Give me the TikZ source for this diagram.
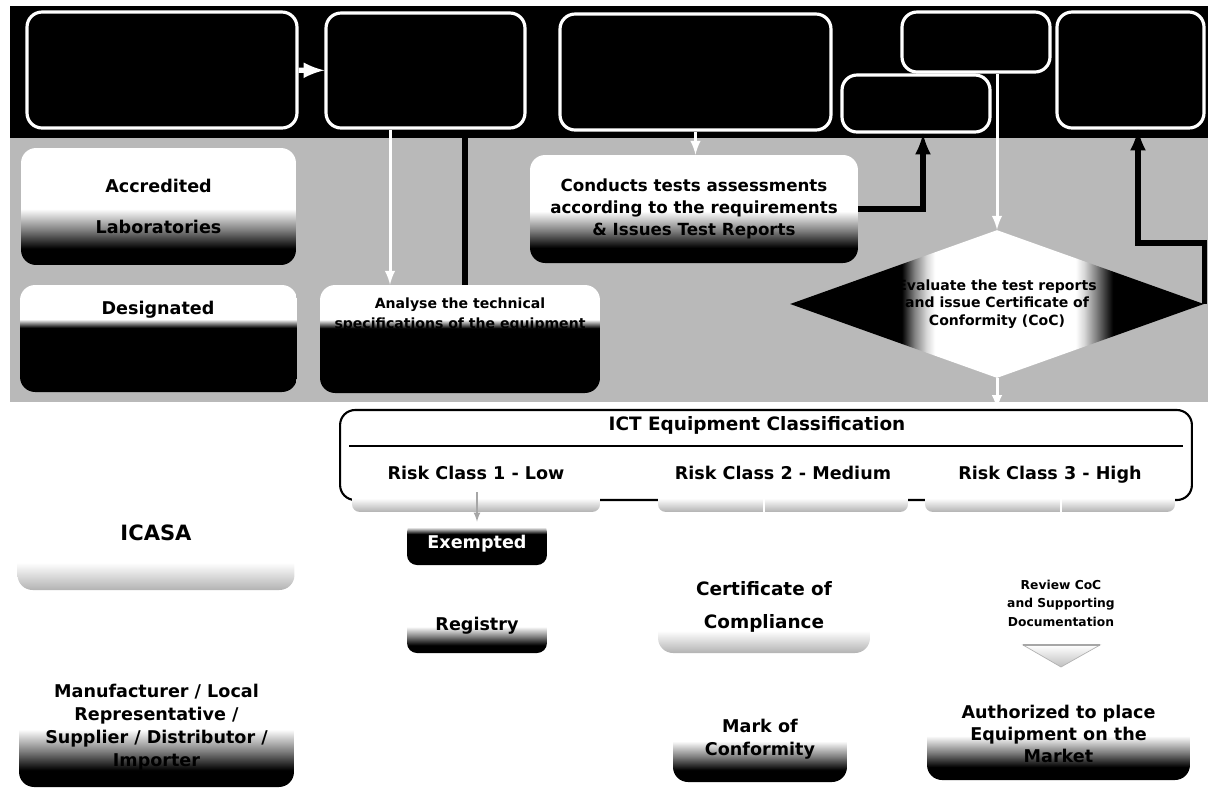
\documentclass[tikz,border=0pt]{standalone}
\usepackage{fontspec}
\setmainfont{DejaVu Sans}
\usetikzlibrary{shapes.geometric,positioning}
\tikzset{>=latex}
% shadings run over the middle 25bp--75bp of the path
\pgfdeclareverticalshading{fadelow}{100bp}{color(0bp)=(black); color(32bp)=(black); color(40bp)=(gray); color(49bp)=(white); color(100bp)=(white)}
\pgfdeclareverticalshading{fadehigh}{100bp}{color(0bp)=(black); color(55bp)=(black); color(57bp)=(gray); color(59bp)=(white); color(100bp)=(white)}
\pgfdeclareverticalshading{fadedark}{100bp}{color(0bp)=(black); color(61bp)=(black); color(65bp)=(gray); color(69bp)=(white); color(100bp)=(white)}
\pgfdeclareverticalshading{fadefaint}{100bp}{color(0bp)=(gray!60); color(25bp)=(gray!60); color(37bp)=(white); color(100bp)=(white)}
\pgfdeclarehorizontalshading{evalfade}{100bp}{color(0bp)=(black); color(38.5bp)=(black); color(40bp)=(gray); color(41.5bp)=(gray!30); color(42.5bp)=(white); color(59.5bp)=(white); color(60.5bp)=(gray!30); color(62bp)=(gray); color(64bp)=(black); color(100bp)=(black)}

\begin{document}
\begin{tikzpicture}[x=0.02cm,y=-0.02cm,
  every node/.style={font=\bfseries\fontsize{10}{13}\selectfont,align=center},
  topbox/.style={draw=white,line width=1.8pt,fill=black,rounded corners=0.3cm},
  fadebox/.style={rounded corners=0.3cm,inner sep=2pt},
  riskbox/.style={rounded corners=0.15cm,shading=fadefaint,minimum width=5cm,inner ysep=2pt,text height=11.6pt,text depth=16.7pt},
  wline/.style={white,line width=1.7pt,->},
  bline/.style={black,line width=3pt,->}]
\useasboundingbox (0,0) rectangle (1208,796);
% band behind the upper part
\fill[black] (10,6) rectangle (1208,138);
\fill[gray!55] (10,138) rectangle (1208,402);

% upper row
\node[topbox,minimum width=5.4cm,minimum height=2.32cm] (in1) at (162,70) {};
\node[topbox,minimum width=3.98cm,minimum height=2.3cm] (in2) at (425.5,70.5) {};
\node[topbox,minimum width=5.42cm,minimum height=2.32cm] (in3) at (695.5,72) {};
\node[topbox,minimum width=2.96cm,minimum height=1.2cm] (in4) at (976,42) {};
\node[topbox,minimum width=2.96cm,minimum height=1.14cm] (in5) at (916,103.5) {};
\node[topbox,minimum width=2.94cm,minimum height=2.32cm] (in6) at (1130.5,70) {};

\node[fadebox,shading=fadelow,minimum width=5.5cm,minimum height=2.34cm] (acc) at (158.5,206.5) {Accredited\\[10pt]Laboratories};
\node[fadebox,shading=fadehigh,minimum width=5.54cm,minimum height=2.14cm] (des) at (158.5,338.5) {};
\node (destxt) at (158,310) {Designated};
\node[fadebox,shading=fadehigh,minimum width=5.6cm,minimum height=2.16cm] (ana) at (460,339) {};
\node[font=\bfseries\fontsize{8}{11.3}\selectfont] (anatxt) at (460,315) {Analyse the technical\\specifications of the equipment};
\node[fadebox,shading=fadelow,minimum width=6.56cm,minimum height=2.16cm,font=\bfseries\fontsize{9.5}{12.5}\selectfont] (cond) at (694,209) {Conducts tests assessments\\according to the requirements\\\& Issues Test Reports};
\node[diamond,shading=evalfade,shape aspect=2.8,minimum width=8.28cm,minimum height=2.96cm,inner sep=0pt,font=\bfseries\fontsize{8}{10}\selectfont] (eval) at (997,304) {Evaluate the test reports\\and issue Certificate of\\Conformity (CoC)};

\draw[wline,line width=3pt] (in1) -- (in2);
\draw[wline] ([xshift=-0.71cm]in2.south) -- ([xshift=-0.71cm]in2.south |- ana.north);
\draw[bline,-] ([xshift=0.1cm]ana.north) -- ([xshift=0.1cm]ana.north |- in2.south);
\draw[wline] (in3.south) -- (in3.south |- cond.north);
\draw[bline] (cond.east) -| ([xshift=0.14cm]in5.south);
\draw[wline] (eval.north |- in4.south) -- (eval.north);
\draw[bline] (eval.east) -- ++(0,-61) -| ([xshift=0.15cm]in6.south);

% classification
\node[draw,line width=1.2pt,fill=white,rounded corners=0.3cm,minimum width=17.04cm,minimum height=1.8cm] (ict) at (766,455) {};
\node[font=\bfseries\fontsize{10.5}{13}\selectfont] (icttitle) at (757,425) {ICT Equipment Classification};
\draw[line width=1.2pt] ([xshift=0.2cm,yshift=-0.74cm]ict.north west) -- ([xshift=-0.2cm,yshift=-0.74cm]ict.north east);
\draw[wline] (eval.south) -- (eval.south |- ict.north);
\node[riskbox,minimum width=4.96cm] (r1) at (476,483.5) {Risk Class 1 - Low};
\node[riskbox] (r2) at (783,483.5) {Risk Class 2 - Medium};
\node[riskbox] (r3) at (1050,483.5) {Risk Class 3 - High};

% lower part
\node[fadebox,shading=fadefaint,minimum width=5.54cm,minimum height=2.28cm,font=\bfseries\fontsize{12}{14}\selectfont] (icasa) at (156,533) {ICASA};
\node[fadebox,shading=fadelow,minimum width=5.5cm,minimum height=2.4cm] (manu) at (156.5,727) {Manufacturer / Local\\Representative /\\Supplier / Distributor /\\Importer};
\node[fadebox,shading=fadedark,rounded corners=0.2cm,minimum width=2.8cm,minimum height=0.86cm,text=white] (exm) at (477,543.5) {Exempted};
\node[fadebox,shading=fadelow,rounded corners=0.2cm,minimum width=2.8cm,minimum height=1.1cm] (reg) at (477,625.5) {Registry};
\node[fadebox,shading=fadefaint,minimum width=4.24cm,minimum height=1.86cm,font=\bfseries\fontsize{10.5}{18.7}\selectfont] (cert) at (764,606.5) {Certificate of\\Compliance};
\node[fadebox,shading=fadelow,minimum width=3.48cm,minimum height=1.7cm] (mark) at (760,739.5) {Mark of\\Conformity};
\node[font=\bfseries\fontsize{7}{10.5}\selectfont] (rev) at (1061,603) {Review CoC\\and Supporting\\Documentation};
\node[fadebox,shading=fadelow,minimum width=5.26cm,minimum height=1.84cm,font=\bfseries\fontsize{10}{12.5}\selectfont] (auth) at (1058.5,734) {Authorized to place\\Equipment on the\\Market};
\shadedraw[top color=white,bottom color=gray!50,draw=gray!60] (1023,645) -- (1100,645) -- (1061,667) -- cycle;
\draw[gray!70,line width=1.5pt] (1023,645) -- (1100,645);

\draw[gray!70,thick,->] (exm.north |- r1.south) ++(0,-20) -- (exm.north);
\draw[white,line width=1.5pt] (cert.north |- r2.south) ++(0,-20) -- (cert.north);
\draw[white,line width=1.5pt] (rev.north |- r3.south) ++(0,-20) -- (rev.north);
\end{tikzpicture}
\end{document}
